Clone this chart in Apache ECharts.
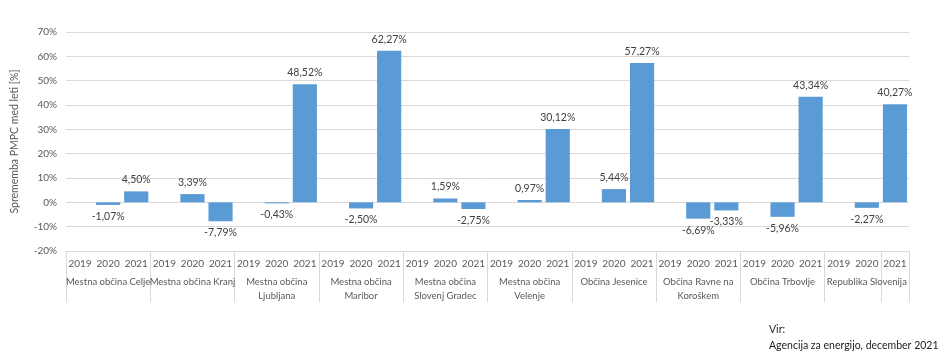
<!DOCTYPE html>
<html><head><meta charset="utf-8">
<script src="https://cdn.jsdelivr.net/npm/echarts@6/dist/echarts.min.js"></script>
<style>html,body{margin:0;padding:0;background:#fff}#c{width:940px;height:360px}</style>
</head><body><div id="c"></div>
<script>
const groups = ["Mestna občina Celje","Mestna občina Kranj","Mestna občina\nLjubljana","Mestna občina\nMaribor","Mestna občina\nSlovenj Gradec","Mestna občina\nVelenje","Občina Jesenice","Občina Ravne na\nKoroškem","Občina Trbovlje","Republika Slovenija"];
const years = ["2019","2020","2021"];
const v2019 = [null,null,null,null,null,null,null,null,null,null];
const v2020 = [-1.07,3.39,-0.43,-2.50,1.59,0.97,5.44,-6.69,-5.96,-2.27];
const v2021 = [4.50,-7.79,48.52,62.27,-2.75,30.12,57.27,-3.33,43.34,40.27];
const yTicks = [-20,-10,0,10,20,30,40,50,60,70];

const cats = [], vals = [];
groups.forEach((g,i)=>{
  [v2019[i],v2020[i],v2021[i]].forEach((v,j)=>{ cats.push(years[j]); vals.push(v); });
});
const FONT = 'Lato';
const chart = echarts.init(document.getElementById('c'));
chart.setOption({
  animation:false,
  textStyle:{fontFamily:FONT},
  grid:{left:66,right:31,top:32,bottom:109},
  title:{text:'Vir:\nAgencija za energijo, december 2021',left:764,top:317,
    textStyle:{fontFamily:FONT,fontSize:10.5,fontWeight:'normal',color:'#222',lineHeight:16}},
  xAxis:[
    {type:'category',data:cats,position:'bottom',
     axisLine:{show:true,onZero:false,lineStyle:{color:'#d9d9d9'}},
     axisTick:{show:true,interval:2,length:51,lineStyle:{color:'#d9d9d9'}},
     axisLabel:{interval:0,color:'#595959',fontSize:10,margin:8}},
    {type:'category',data:groups,position:'bottom',offset:18,
     axisLine:{show:false},axisTick:{show:false},
     axisLabel:{interval:0,color:'#595959',fontSize:9.5,lineHeight:14,margin:6}}
  ],
  yAxis:{type:'value',min:-20,max:70,interval:10,
    name:'Sprememba PMPC med leti [%]',nameLocation:'middle',nameGap:46,nameRotate:90,
    nameTextStyle:{color:'#595959',fontSize:10.5,fontFamily:FONT},
    axisLine:{show:false},axisTick:{show:false},
    axisLabel:{formatter:v=>yTicks.includes(v)?v+'%':'',color:'#595959',fontSize:10,margin:9},
    splitLine:{lineStyle:{color:'#d9d9d9'}}},
  series:[{type:'bar',xAxisIndex:0,data:vals.map(v=>v===null?null:{value:v,label:{position:v<0?'bottom':'top'}}),
    barCategoryGap:'14%',itemStyle:{color:'#5b9bd5'},
    label:{show:true,color:'#404040',fontSize:10.5,distance:6,
      formatter:p=>p.value.toFixed(2).replace('.',',')+'%'}}]
});
</script></body></html>
